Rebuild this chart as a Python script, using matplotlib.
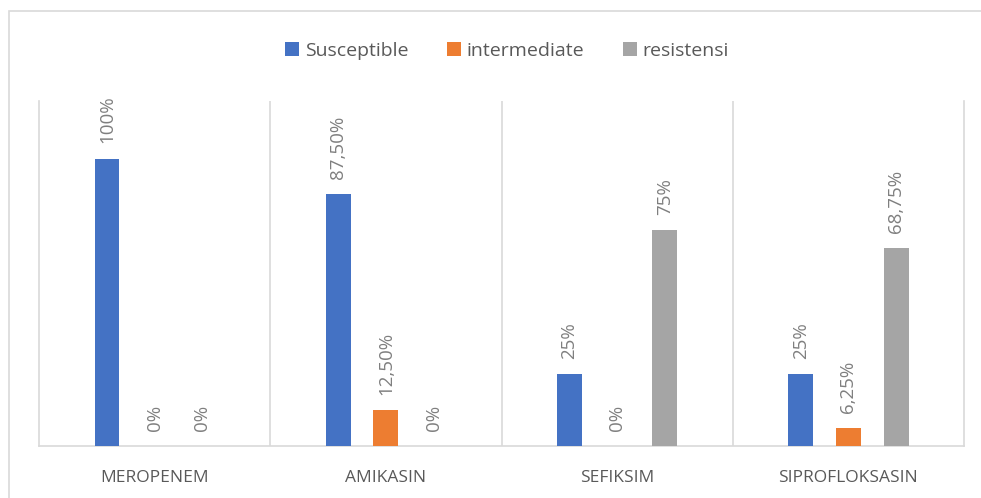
import numpy as np
import matplotlib
matplotlib.use("Agg")
import matplotlib.pyplot as plt
from matplotlib.patches import Rectangle

# data
categories = ["MEROPENEM", "AMIKASIN", "SEFIKSIM", "SIPROFLOKSASIN"]
series_names = ["Susceptible", "intermediate", "resistensi"]
susceptible = [100, 87.5, 25, 25]
intermediate = [0, 12.5, 0, 6.25]
resistensi = [0, 0, 75, 68.75]
colors = ["#4472C4", "#ED7D31", "#A5A5A5"]


def pct_label(v):
    # excel style: comma as decimal separator
    if float(v).is_integer():
        return "%d%%" % v
    return ("%.2f%%" % v).replace(".", ",")


plt.rcParams["font.family"] = ["Open Sans", "DejaVu Sans"]

fig = plt.figure(figsize=(9.81, 4.98), dpi=100)
ax = fig.add_axes([39 / 981, 52 / 498, 925 / 981, 345 / 498])

x = np.arange(len(categories))
width = 0.108
offsets = [-0.206, 0, 0.206]
grid_col = "#D9D9D9"
label_col = "#7F7F7F"

for vals, name, col, off in zip([susceptible, intermediate, resistensi], series_names, colors, offsets):
    bars = ax.bar(x + off, vals, width, color=col, label=name, zorder=3)
    for b, v in zip(bars, vals):
        ax.annotate(pct_label(v), (b.get_x() + b.get_width() / 2, v),
                    xytext=(0, 11), textcoords="offset points",
                    rotation=90, ha="center", va="bottom",
                    fontsize=13.5, color=label_col)

ax.set_xlim(-0.5, len(categories) - 0.5)
ax.set_ylim(0, 120)
for sep in np.arange(0.5, len(categories) - 0.5):
    ax.axvline(sep, color=grid_col, lw=1.2, zorder=1)

ax.spines["top"].set_visible(False)
for s in ["left", "right", "bottom"]:
    ax.spines[s].set_color(grid_col)
    ax.spines[s].set_linewidth(1.2)

ax.set_yticks([])
ax.set_xticks(x)
ax.set_xticklabels(categories, fontsize=12.5, color="#595959")
ax.tick_params(axis="x", length=0, pad=17)

leg = fig.legend(loc="center", bbox_to_anchor=(507 / 981, 1 - 51 / 498), ncol=3,
                 frameon=False, fontsize=14, handlelength=0.7, handleheight=0.7,
                 handletextpad=0.3, columnspacing=2.0, labelcolor="#595959")

# outer chart border (cropped on right and bottom)
fig.patches.append(Rectangle((9 / 981, -0.1), 1.2, 1.1 - 11 / 498,
                             transform=fig.transFigure, fill=False,
                             edgecolor=grid_col, lw=1.2))

fig.savefig("out.png", dpi=100)
